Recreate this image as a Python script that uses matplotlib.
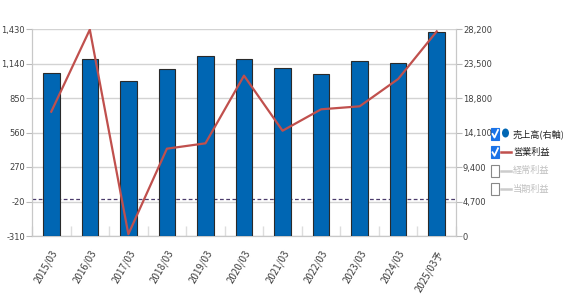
import numpy as np
import matplotlib
matplotlib.use("Agg")
import matplotlib.pyplot as plt
from matplotlib.patches import Rectangle, Ellipse
from matplotlib.lines import Line2D

# data
years = ["2015/03", "2016/03", "2017/03", "2018/03", "2019/03", "2020/03",
         "2021/03", "2022/03", "2023/03", "2024/03", "2025/03予"]
sales = [22150, 24070, 21070, 22700, 24470, 24070, 22840, 22070, 23790, 23520, 27750]
op_profit = [735, 1425, -295, 424, 469, 1038, 575, 755, 780, 1010, 1410]

left_ticks = [-310, -20, 270, 560, 850, 1140, 1430]
right_ticks = [0, 4700, 9400, 14100, 18800, 23500, 28200]

legend_labels = ["売上高(右軸)", "営業利益", "経常利益", "当期利益"]
legend_on = [True, True, False, False]

plt.rcParams['font.family'] = ['Noto Sans CJK JP', 'DejaVu Sans']

bar_col = "#0066b3"
line_col = "#c0504d"
grid_col = "#d3d3d3"
txt_col = "#404040"
num_font = dict(family="DejaVu Sans", stretch="condensed", size=6.7, color=txt_col)

fig = plt.figure(figsize=(5.71, 2.97), dpi=100)
ax = fig.add_axes([32 / 571, 1 - 236 / 297, 424 / 571, 207 / 297])
ax2 = ax.twinx()
ax.set_zorder(1)
ax2.set_zorder(2)
ax2.patch.set_visible(False)

x = np.arange(len(years))

# left axis: grid + zero line
ax.set_ylim(left_ticks[0], left_ticks[-1])
ax.set_yticks(left_ticks)
ax.set_yticklabels([f"{v:,}" for v in left_ticks], **num_font)
ax.grid(axis="y", color=grid_col, lw=1)
ax.axhline(0, color="#4b3b6b", lw=0.9, ls=(0, (3, 2)), zorder=2)
ax.set_xlim(-0.5, len(years) - 0.5)
ax.set_xticks(x)
ax.set_xticklabels(years, rotation=60, ha="right", va="top", rotation_mode="anchor",
                   fontsize=7, color=txt_col)
ax.set_xticks(np.arange(-0.5, len(years), 1), minor=True)
ax.tick_params(axis="x", which="major", length=0, pad=9)
ax.tick_params(axis="x", which="minor", direction="in", length=7, color="#dddddd", width=1)
ax.tick_params(axis="y", length=4, color="#bbbbbb", pad=1)

# right axis: bars
ax2.bar(x, sales, width=0.43, color=bar_col, edgecolor="#2a2a2a", lw=0.8, zorder=3)
ax2.set_ylim(right_ticks[0], right_ticks[-1])
ax2.set_yticks(right_ticks)
ax2.set_yticklabels([f"{v:,}" for v in right_ticks], **num_font)
ax2.tick_params(axis="y", length=4, color="#bbbbbb", pad=1)

# operating profit line (left axis values)
ax2.plot(x, op_profit, color=line_col, lw=1.6, zorder=4, transform=ax.transData)

for a in (ax, ax2):
    a.spines["top"].set_visible(False)
    for s in ("left", "right", "bottom"):
        a.spines[s].set_color("#c8c8c8")

# legend with checkboxes
W, H = 571, 297
for i, (lab, on) in enumerate(zip(legend_labels, legend_on)):
    yc = 134 + i * 18.3
    fy = 1 - yc / H
    if on:
        fig.add_artist(Rectangle((491 / W, fy - 6 / H), 8 / W, 12 / H, transform=fig.transFigure,
                                 facecolor="#1a73e8", edgecolor="#1a73e8", lw=0.8))
        fig.add_artist(Line2D([492.5 / W, 494.5 / W, 498 / W], [fy, fy - 3.5 / H, fy + 4 / H],
                              transform=fig.transFigure, color="white", lw=1.3))
        tc = "#222222"
    else:
        fig.add_artist(Rectangle((491 / W, fy - 6 / H), 8 / W, 12 / H, transform=fig.transFigure,
                                 facecolor="white", edgecolor="#888888", lw=0.8))
        tc = "#c0c0c0"
    if i == 0:
        fig.add_artist(Ellipse((505.5 / W, fy + 1 / H), 7 / W, 9 / H, transform=fig.transFigure,
                               facecolor=bar_col, edgecolor="none"))
    else:
        fig.add_artist(Line2D([501 / W, 511 / W], [fy, fy], transform=fig.transFigure,
                              color=line_col if on else "#cccccc", lw=1.8))
    fig.text(513 / W, fy, lab, fontsize=6.6, color=tc, va="center", ha="left")

fig.savefig("out.png", dpi=100)
